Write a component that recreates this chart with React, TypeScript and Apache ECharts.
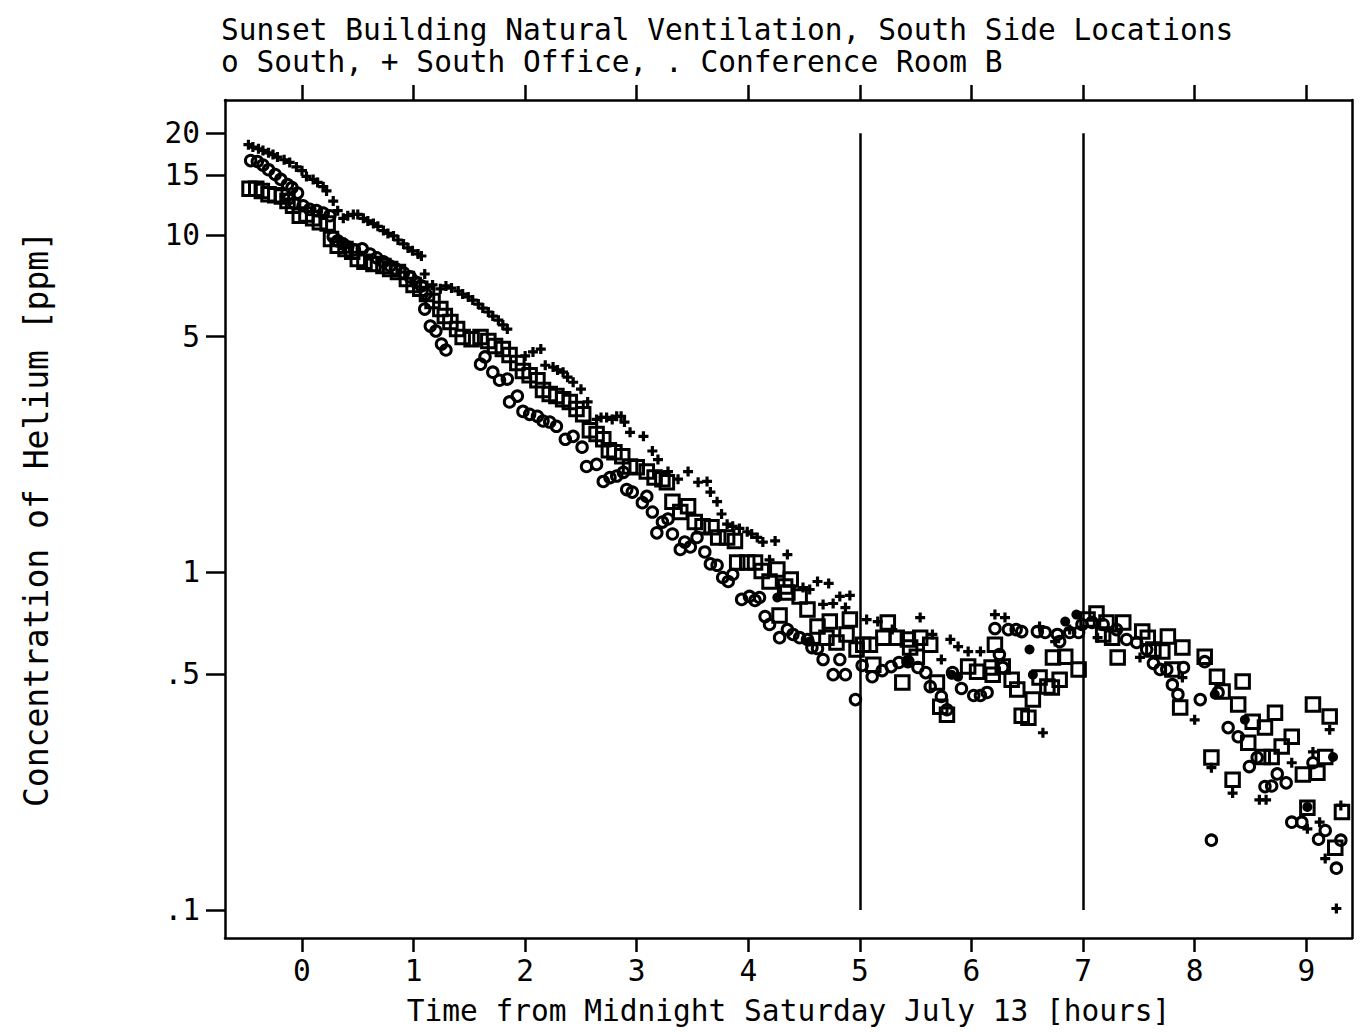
import React, { useEffect, useRef } from "react";
import * as echarts from "echarts";

const hourTicks = [0, 1, 2, 3, 4, 5, 6, 7, 8, 9];
const concTicks = [0.1, 0.5, 1, 5, 10, 15, 20];
const eventHours = [5, 7];
const eventSpan = [0.1, 20];
const hourRange = [-0.69, 9.41];
const concRange = [0.0826, 25.1];

const titleLines = [
  "Sunset Building Natural Ventilation, South Side Locations",
  "o South, + South Office, . Conference Room B",
];
const xName = "Time from Midnight Saturday July 13 [hours]";
const yName = "Concentration of Helium [ppm]";

// o South
const southT = [-0.46,-0.40,-0.35,-0.30,-0.24,-0.19,-0.13,-0.09,-0.04,-0.12,
  -0.07,0.01,0.07,0.13,0.19,0.25,0.28,0.32,0.37,0.41,
  0.47,0.54,0.61,0.67,0.73,0.79,0.84,0.91,0.97,1.02,
  1.07,1.11,1.10,1.15,1.20,1.25,1.29,1.60,1.64,1.71,
  1.77,1.84,1.86,1.93,1.98,2.04,2.11,2.16,2.22,2.28,
  2.36,2.43,2.51,2.55,2.64,2.70,2.76,2.82,2.88,2.91,
  2.96,3.05,3.09,3.14,3.18,3.23,3.28,3.32,3.39,3.43,
  3.48,3.54,3.61,3.66,3.72,3.77,3.82,3.86,3.94,4.01,
  4.06,4.10,4.15,4.19,4.28,4.35,4.40,4.46,4.53,4.57,
  4.62,4.67,4.76,4.82,4.87,4.96,5.02,5.11,5.20,5.28,
  5.35,5.43,5.52,5.59,5.63,5.73,5.78,5.83,5.91,6.02,
  6.08,6.14,6.21,6.25,6.28,6.33,6.40,6.45,6.59,6.66,
  6.77,6.79,6.88,6.96,6.99,7.08,7.18,7.30,7.39,7.48,
  7.57,7.63,7.69,7.75,7.80,7.85,7.90,8.05,8.09,8.15,
  8.21,8.30,8.39,8.49,8.56,8.63,8.69,8.74,8.82,8.87,
  8.96,9.06,9.11,9.17,9.27,9.31];
const southC = [16.6,16.5,16.1,15.6,15.1,14.6,14.1,13.8,13.3,12.8,
  12.4,12.2,11.9,11.8,11.6,11.4,9.87,9.60,9.40,9.21,
  9.03,9.09,8.78,8.55,8.32,8.09,7.93,7.72,7.51,7.25,
  7.06,6.68,6.03,5.37,5.19,4.75,4.56,4.14,4.35,3.92,
  3.71,3.74,3.20,3.33,3.00,2.94,2.90,2.81,2.79,2.71,
  2.48,2.53,2.35,2.06,2.09,1.86,1.91,1.93,1.98,1.76,
  1.73,1.61,1.68,1.51,1.31,1.41,1.44,1.30,1.17,1.23,
  1.19,1.27,1.15,1.06,1.05,0.966,0.940,0.986,0.832,0.849,
  0.826,0.843,0.740,0.701,0.641,0.677,0.655,0.641,0.633,0.599,
  0.595,0.552,0.498,0.552,0.498,0.420,0.530,0.491,0.512,0.526,
  0.541,0.544,0.523,0.505,0.459,0.429,0.392,0.505,0.453,0.432,
  0.432,0.441,0.682,0.571,0.523,0.677,0.677,0.668,0.668,0.664,
  0.655,0.624,0.664,0.664,0.701,0.711,0.701,0.677,0.633,0.620,
  0.591,0.538,0.516,0.516,0.465,0.435,0.523,0.420,0.544,0.161,
  0.441,0.347,0.326,0.266,0.283,0.232,0.233,0.253,0.238,0.182,
  0.182,0.273,0.162,0.172,0.133,0.161];

// + South Office
const officeT = [-0.48,-0.44,-0.39,-0.35,-0.30,-0.26,-0.22,-0.16,-0.11,-0.05,
  0.00,0.04,0.10,0.14,0.19,0.22,0.28,0.32,0.37,0.41,
  0.46,0.50,0.55,0.59,0.64,0.68,0.73,0.77,0.82,0.86,
  0.91,0.95,0.99,1.04,1.07,1.10,1.17,1.24,1.29,1.34,
  1.40,1.44,1.49,1.53,1.58,1.62,1.67,1.71,1.76,1.80,
  1.84,2.00,2.07,2.14,2.18,2.25,2.29,2.34,2.38,2.43,
  2.50,2.56,2.64,2.68,2.73,2.78,2.82,2.86,2.89,2.94,
  3.06,3.14,3.19,3.28,3.37,3.46,3.55,3.63,3.66,3.72,
  3.76,3.81,3.86,3.92,3.99,4.03,4.08,4.13,4.24,4.19,
  4.35,4.49,4.55,4.62,4.67,4.72,4.76,4.82,4.87,4.91,
  5.06,5.16,5.29,5.54,5.65,5.73,5.81,5.88,5.97,6.08,
  6.21,6.30,6.61,6.64,6.75,6.88,7.13,7.51,7.89,8.00,
  8.15,8.34,8.58,8.64,8.87,9.06,9.01,9.12,9.21,9.17,
  9.27,9.31];
const officeC = [18.5,18.2,18.0,17.8,17.5,17.3,17.0,16.7,16.4,15.9,
  15.5,14.9,14.6,14.3,13.9,13.5,12.6,11.8,11.2,11.4,
  11.5,11.5,11.2,11.0,10.8,10.6,10.3,10.1,9.93,9.66,
  9.40,9.15,8.97,8.78,8.66,7.66,7.11,6.92,7.06,6.96,
  6.82,6.68,6.55,6.41,6.24,6.07,5.91,5.75,5.59,5.41,
  5.26,4.38,4.50,4.59,4.11,4.06,3.98,3.92,3.79,3.66,
  3.49,3.20,2.84,2.88,2.88,2.84,2.90,2.90,2.79,2.60,
  2.53,2.29,2.16,1.99,1.89,1.99,1.85,1.86,1.73,1.62,
  1.49,1.39,1.37,1.35,1.32,1.30,1.27,1.23,1.24,1.09,
  1.13,0.902,0.890,0.940,0.804,0.928,0.809,0.849,0.787,0.855,
  0.725,0.715,0.677,0.735,0.655,0.552,0.633,0.603,0.583,0.583,
  0.750,0.735,0.691,0.335,0.624,0.677,0.641,0.560,0.488,0.366,
  0.264,0.222,0.212,0.212,0.273,0.294,0.174,0.182,0.342,0.142,
  0.101,0.204];

// squares
const roomT = [-0.47,-0.41,-0.36,-0.30,-0.24,-0.18,-0.13,-0.08,-0.02,0.04,
  0.10,0.16,0.23,0.26,0.32,0.39,0.45,0.50,0.56,0.64,
  0.73,0.79,0.86,0.94,1.00,1.06,1.12,1.17,1.24,1.28,
  1.33,1.39,1.44,1.52,1.60,1.67,1.73,1.80,1.86,1.93,
  1.98,2.04,2.11,2.16,2.22,2.28,2.34,2.40,2.46,2.52,
  2.58,2.64,2.70,2.75,2.80,2.87,2.94,3.00,3.09,3.16,
  3.23,3.27,3.32,3.39,3.46,3.52,3.59,3.67,3.73,3.81,
  3.88,3.90,3.99,4.06,4.12,4.19,4.26,4.28,4.33,4.35,
  4.38,4.46,4.53,4.62,4.73,4.70,4.79,4.88,4.91,4.97,
  5.03,5.09,5.12,5.21,5.25,5.33,5.38,5.43,5.45,5.51,
  5.54,5.63,5.69,5.72,5.78,5.97,6.05,6.18,6.21,6.19,
  6.28,6.36,6.41,6.45,6.51,6.55,6.61,6.68,6.72,6.73,
  6.79,6.84,6.96,7.04,7.12,7.18,7.21,7.26,7.31,7.36,
  7.53,7.58,7.63,7.71,7.76,7.80,7.87,7.89,8.09,8.15,
  8.20,8.25,8.34,8.39,8.43,8.48,8.52,8.61,8.63,8.69,
  8.72,8.78,8.87,8.97,9.01,9.06,9.10,9.17,9.21,9.26,
  9.32];
const roomC = [13.7,13.7,13.5,13.2,13.1,13.0,12.6,12.2,11.4,11.5,
  11.2,10.9,10.8,9.73,9.28,9.09,8.91,8.49,8.32,8.20,
  8.09,7.93,7.77,7.40,7.11,6.92,6.68,6.37,6.03,5.75,
  5.52,5.26,4.98,4.91,4.98,4.85,4.69,4.59,4.41,4.17,
  3.95,3.84,3.71,3.47,3.38,3.33,3.26,3.20,3.05,2.94,
  2.64,2.57,2.48,2.30,2.27,2.21,2.06,2.05,1.99,1.91,
  1.89,1.85,1.62,1.51,1.57,1.41,1.37,1.36,1.27,1.27,
  1.24,1.07,1.07,1.07,1.01,0.940,1.02,0.746,0.909,0.872,
  0.953,0.849,0.777,0.691,0.715,0.641,0.620,0.655,0.725,0.591,
  0.611,0.611,0.533,0.641,0.711,0.641,0.472,0.633,0.599,0.563,
  0.641,0.611,0.472,0.400,0.379,0.526,0.508,0.523,0.611,0.498,
  0.526,0.481,0.450,0.376,0.371,0.420,0.488,0.459,0.456,0.560,
  0.481,0.563,0.516,0.725,0.756,0.655,0.711,0.641,0.560,0.711,
  0.668,0.641,0.591,0.583,0.646,0.516,0.398,0.599,0.563,0.283,
  0.491,0.444,0.243,0.406,0.475,0.313,0.361,0.284,0.347,0.284,
  0.384,0.305,0.326,0.252,0.201,0.406,0.255,0.284,0.374,0.153,
  0.195];

// . Conference Room B (filled dots)
const dotT = [4.26,4.55,5.42,5.82,5.88,6.52,6.55,6.84,6.94,8.18,8.45,9.01,9.24];
const dotC = [0.843,0.624,0.544,0.498,0.491,0.591,0.498,0.715,0.750,0.435,0.366,0.202,0.284];

const FONT = "'DejaVu Sans Mono', monospace";
const lg = (v: number) => Math.log10(v);
const pairs = (t: number[], c: number[]) => t.map((x, i) => [x, lg(c[i])]);

function fmtConc(v: number): string {
  let best = concTicks[0];
  for (const c of concTicks) if (Math.abs(lg(c) - v) < Math.abs(lg(best) - v)) best = c;
  return best < 1 ? String(best).replace(/^0/, "") : String(best);
}

export default function App() {
  const ref = useRef<HTMLDivElement>(null);
  useEffect(() => {
    if (!ref.current) return;
    const chart = echarts.init(ref.current, null, { renderer: "svg" });
    const black = "#000";
    const xMin = hourRange[0], xMax = hourRange[1];
    const yMin = lg(concRange[0]), yMax = lg(concRange[1]);
    const logTicks = concTicks.map(lg);
    chart.setOption({
      animation: false,
      backgroundColor: "#fff",
      title: {
        text: titleLines.join("\n"),
        left: 221,
        top: 14,
        padding: 0,
        textStyle: { fontFamily: FONT, fontSize: 29.5, fontWeight: "normal", color: black, lineHeight: 32 },
      },
      grid: { left: 225, right: 17, top: 100, bottom: 96, show: false },
      xAxis: [
        {
          type: "value", min: xMin, max: xMax, position: "bottom",
          name: xName, nameLocation: "middle", nameGap: 58,
          nameTextStyle: { fontFamily: FONT, fontSize: 29.5, color: black },
          axisLine: { show: true, onZero: false, lineStyle: { color: black, width: 2.5 } },
          axisTick: { show: true, customValues: hourTicks, length: 14, inside: false, lineStyle: { color: black, width: 2.5 } },
          axisLabel: { show: true, customValues: hourTicks, margin: 18, fontFamily: FONT, fontSize: 29.5, color: black },
          splitLine: { show: false },
        },
        {
          type: "value", min: xMin, max: xMax, position: "top",
          axisLine: { show: true, onZero: false, lineStyle: { color: black, width: 2.5 } },
          axisTick: { show: true, customValues: hourTicks, length: 15, inside: false, lineStyle: { color: black, width: 2.5 } },
          axisLabel: { show: false },
          splitLine: { show: false },
        },
      ],
      yAxis: [
        {
          type: "value", min: yMin, max: yMax, position: "left",
          name: yName, nameLocation: "middle", nameGap: 172,
          nameTextStyle: { fontFamily: FONT, fontSize: 33, color: black },
          axisLine: { show: true, onZero: false, lineStyle: { color: black, width: 2.5 } },
          axisTick: { show: true, customValues: logTicks, length: 19, inside: false, lineStyle: { color: black, width: 2.5 } },
          axisLabel: { show: true, customValues: logTicks, margin: 25, fontFamily: FONT, fontSize: 29.5, color: black, formatter: (v: number) => fmtConc(v) },
          splitLine: { show: false },
        },
        {
          type: "value", min: yMin, max: yMax, position: "right",
          axisLine: { show: true, onZero: false, lineStyle: { color: black, width: 2.5 } },
          axisTick: { show: false },
          axisLabel: { show: false },
          splitLine: { show: false },
        },
      ],
      series: [
        {
          name: "South", type: "scatter", symbol: "circle", symbolSize: 10.5,
          itemStyle: { color: "rgba(0,0,0,0)", borderColor: black, borderWidth: 3, opacity: 1 },
          data: pairs(southT, southC),
          markLine: {
            silent: true, symbol: ["none", "none"], label: { show: false },
            lineStyle: { color: black, width: 2.5, type: "solid" },
            data: eventHours.map((h) => [
              { coord: [h, lg(eventSpan[0])] },
              { coord: [h, lg(eventSpan[1])] },
            ]),
          },
        },
        {
          name: "South Office", type: "scatter",
          symbol: "path://M3.4,0H6.6V3.4H10V6.6H6.6V10H3.4V6.6H0V3.4H3.4Z", symbolSize: 10,
          itemStyle: { color: black, opacity: 1 },
          data: pairs(officeT, officeC),
        },
        {
          name: "Conference Room B squares", type: "scatter", symbol: "rect", symbolSize: 13.5,
          itemStyle: { color: "rgba(0,0,0,0)", borderColor: black, borderWidth: 3, opacity: 1 },
          data: pairs(roomT, roomC),
        },
        {
          name: "Conference Room B", type: "scatter", symbol: "circle", symbolSize: 10,
          itemStyle: { color: black, opacity: 1 },
          data: pairs(dotT, dotC),
        },
      ],
    });
    return () => chart.dispose();
  }, []);
  return <div ref={ref} style={{ position: "fixed", left: 0, top: 0, width: 1369, height: 1034, background: "#fff" }} />;
}
